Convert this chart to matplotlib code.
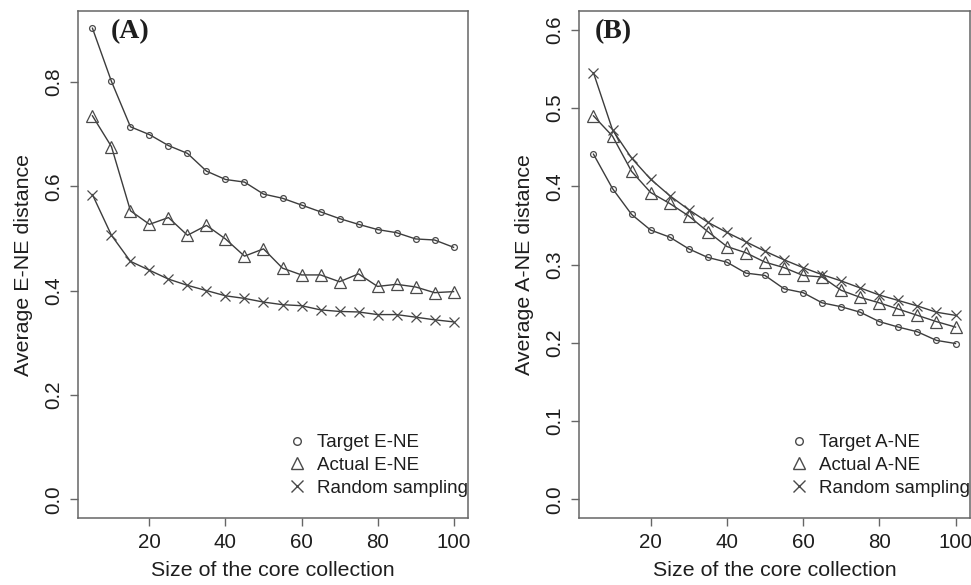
import matplotlib
matplotlib.use("Agg")
import matplotlib.pyplot as plt
from matplotlib.lines import Line2D

plt.rcParams['font.family'] = ['Liberation Sans', 'DejaVu Sans']

sizes = [5, 10, 15, 20, 25, 30, 35, 40, 45, 50, 55, 60, 65, 70, 75, 80, 85, 90, 95, 100]

target_ene = [0.903, 0.801, 0.714, 0.699, 0.678, 0.663, 0.629, 0.613, 0.608, 0.585,
              0.577, 0.564, 0.551, 0.538, 0.527, 0.517, 0.511, 0.499, 0.497, 0.483]
actual_ene = [0.735, 0.676, 0.553, 0.527, 0.540, 0.506, 0.525, 0.499, 0.466, 0.480,
              0.443, 0.430, 0.430, 0.417, 0.432, 0.408, 0.412, 0.407, 0.396, 0.398]
random_ene = [0.584, 0.506, 0.456, 0.439, 0.422, 0.410, 0.400, 0.390, 0.385, 0.378,
              0.373, 0.371, 0.363, 0.360, 0.359, 0.354, 0.354, 0.349, 0.344, 0.340]

target_ane = [0.441, 0.397, 0.364, 0.344, 0.335, 0.320, 0.309, 0.303, 0.289, 0.286,
              0.269, 0.264, 0.251, 0.246, 0.239, 0.227, 0.220, 0.214, 0.203, 0.199]
actual_ane = [0.490, 0.464, 0.419, 0.392, 0.378, 0.362, 0.342, 0.323, 0.315, 0.303,
              0.296, 0.286, 0.284, 0.267, 0.258, 0.251, 0.243, 0.235, 0.227, 0.220]
random_ane = [0.545, 0.472, 0.436, 0.409, 0.388, 0.370, 0.354, 0.341, 0.329, 0.317,
              0.306, 0.296, 0.287, 0.279, 0.270, 0.261, 0.254, 0.247, 0.239, 0.235]

xticks = [20, 40, 60, 80, 100]
yticks_a = [0.0, 0.2, 0.4, 0.6, 0.8]
yticks_b = [0.0, 0.1, 0.2, 0.3, 0.4, 0.5, 0.6]

LINE = '#3c3c3c'
MK = '#4a4a4a'
TXT = '#1e1e1e'
FRAME = '#666666'

fig = plt.figure(figsize=(9.71, 5.85), dpi=100)
axA = fig.add_axes([78/971, 67/585, 390/971, 507/585])
axB = fig.add_axes([579/971, 67/585, 391/971, 507/585])


def draw(ax, tgt, act, rnd, ylim, yticks, ylabel, labels, tag, tagx):
    ax.plot(sizes, tgt, color=LINE, lw=1.0, marker='o', ms=4.2, mfc='none',
            mec=MK, mew=0.9)
    ax.plot(sizes, act, color=LINE, lw=1.0, marker='^', ms=8, mfc='none',
            mec=MK, mew=0.9)
    ax.plot(sizes, rnd, color=LINE, lw=1.0, marker='x', ms=6.5, mfc='none',
            mec=MK, mew=0.9)
    ax.set_xlim(1.2, 103.8)
    ax.set_ylim(*ylim)
    ax.set_xticks(xticks)
    ax.set_yticks(yticks)
    ax.set_yticklabels([f"{v:.1f}" for v in yticks], rotation=90, va='center')
    ax.tick_params(axis='both', length=5.5, width=1.0, color=FRAME,
                   labelsize=14.8, labelcolor=TXT, pad=5)
    for s in ax.spines.values():
        s.set_color(FRAME)
        s.set_linewidth(1.1)
    ax.set_xlabel('Size of the core collection', fontsize=15.4, color=TXT, labelpad=7)
    ax.set_ylabel(ylabel, fontsize=15.4, color=TXT, labelpad=8)
    ax.text(tagx, 0.959, tag, transform=ax.transAxes, fontsize=20,
            fontweight='bold', family='Liberation Serif', color=TXT,
            ha='left', va='center')
    handles = [
        Line2D([], [], ls='none', marker='o', ms=5.5, mfc='none', mec=MK, mew=1.0),
        Line2D([], [], ls='none', marker='^', ms=9, mfc='none', mec=MK, mew=1.0),
        Line2D([], [], ls='none', marker='x', ms=8, mfc='none', mec=MK, mew=1.0),
    ]
    leg = ax.legend(handles, labels, loc='lower right', bbox_to_anchor=(1.03, 0.02),
                    frameon=False, fontsize=13.5, handlelength=1.0,
                    handletextpad=0.6, labelspacing=0.3, borderaxespad=0.2)
    for t in leg.get_texts():
        t.set_color(TXT)


draw(axA, target_ene, actual_ene, random_ene, (-0.036, 0.936), yticks_a,
     'Average E-NE distance', ['Target E-NE', 'Actual E-NE', 'Random sampling'],
     '(A)', 0.084)
draw(axB, target_ane, actual_ane, random_ane, (-0.024, 0.624), yticks_b,
     'Average A-NE distance', ['Target A-NE', 'Actual A-NE', 'Random sampling'],
     '(B)', 0.041)

fig.savefig('out.png', dpi=100)
